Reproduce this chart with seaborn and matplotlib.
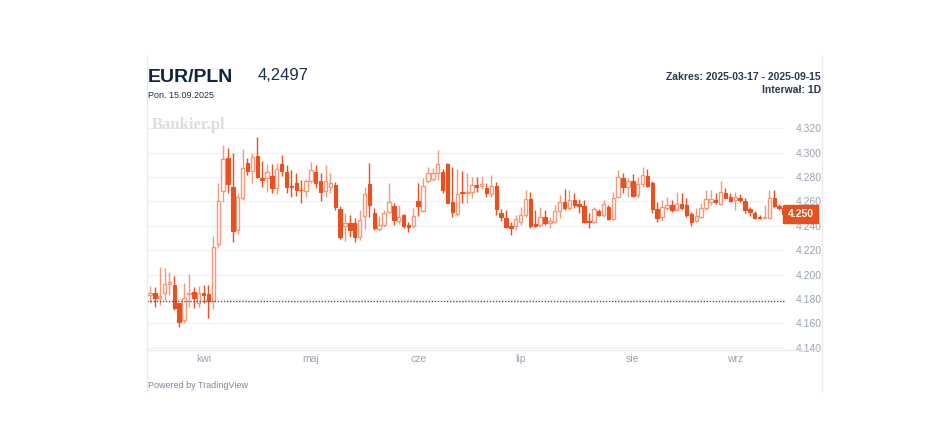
import numpy as np
import pandas as pd
import matplotlib.pyplot as plt
import seaborn as sns
from matplotlib.lines import Line2D

sns.set_theme(style="white")
plt.rcParams['font.family'] = ['Liberation Sans', 'DejaVu Sans']

# Dane OHLC EUR/PLN, dzienne, 2025-03-17 .. 2025-09-15
dates = pd.bdate_range('2025-03-17', '2025-09-15')
open_ = [4.1833, 4.1846, 4.1811, 4.1852, 4.1923, 4.1915, 4.1764, 4.1628, 4.1838, 4.1855,
         4.1770, 4.1846, 4.1841, 4.1786, 4.2251, 4.2685, 4.2958, 4.2715, 4.2366, 4.2625,
         4.2917, 4.2852, 4.2972, 4.2789, 4.2789, 4.2811, 4.2707, 4.2908, 4.2844, 4.2726,
         4.2754, 4.2697, 4.2688, 4.2770, 4.2844, 4.2770, 4.2688, 4.2715, 4.2734, 4.2535,
         4.2398, 4.2426, 4.2426, 4.2305, 4.2480, 4.2743, 4.2508, 4.2371, 4.2407, 4.2516,
         4.2565, 4.2442, 4.2489, 4.2407, 4.2398, 4.2606, 4.2524, 4.2770, 4.2781, 4.2830,
         4.2844, 4.2907, 4.2598, 4.2497, 4.2680, 4.2666, 4.2680, 4.2732, 4.2726, 4.2707,
         4.2661, 4.2726, 4.2502, 4.2461, 4.2398, 4.2398, 4.2434, 4.2489, 4.2617, 4.2412,
         4.2407, 4.2475, 4.2420, 4.2434, 4.2524, 4.2598, 4.2543, 4.2611, 4.2576, 4.2565,
         4.2439, 4.2434, 4.2524, 4.2489, 4.2557, 4.2453, 4.2639, 4.2789, 4.2715, 4.2770,
         4.2652, 4.2743, 4.2808, 4.2754, 4.2535, 4.2469, 4.2543, 4.2570, 4.2530, 4.2576,
         4.2570, 4.2494, 4.2439, 4.2475, 4.2543, 4.2598, 4.2611, 4.2576, 4.2666, 4.2639,
         4.2611, 4.2631, 4.2603, 4.2535, 4.2502, 4.2475, 4.2467, 4.2467, 4.2625, 4.2565,
         4.2549]
high = [4.1907, 4.1901, 4.2060, 4.2051, 4.2024, 4.1989, 4.1770, 4.1928, 4.2005, 4.1896,
        4.1907, 4.1912, 4.1915, 4.2316, 4.2748, 4.3062, 4.3035, 4.3000, 4.2666, 4.3027,
        4.2953, 4.3000, 4.3125, 4.2934, 4.2908, 4.2908, 4.2912, 4.2980, 4.2898, 4.2857,
        4.2830, 4.2775, 4.2781, 4.2926, 4.2902, 4.2830, 4.2902, 4.2830, 4.2762, 4.2562,
        4.2502, 4.2489, 4.2461, 4.2530, 4.2721, 4.2912, 4.2543, 4.2480, 4.2530, 4.2748,
        4.2584, 4.2570, 4.2497, 4.2434, 4.2543, 4.2754, 4.2789, 4.2885, 4.2871, 4.3021,
        4.2863, 4.2912, 4.2879, 4.2863, 4.2850, 4.2830, 4.2803, 4.2803, 4.2808, 4.2748,
        4.2816, 4.2762, 4.2535, 4.2530, 4.2434, 4.2489, 4.2557, 4.2693, 4.2680, 4.2530,
        4.2557, 4.2530, 4.2475, 4.2570, 4.2652, 4.2700, 4.2693, 4.2666, 4.2617, 4.2611,
        4.2502, 4.2557, 4.2535, 4.2611, 4.2570, 4.2680, 4.2857, 4.2830, 4.2789, 4.2825,
        4.2803, 4.2879, 4.2863, 4.2770, 4.2598, 4.2611, 4.2639, 4.2611, 4.2680, 4.2666,
        4.2625, 4.2516, 4.2543, 4.2584, 4.2693, 4.2693, 4.2666, 4.2767, 4.2713, 4.2666,
        4.2680, 4.2658, 4.2625, 4.2557, 4.2521, 4.2489, 4.2571, 4.2693, 4.2693, 4.2580,
        4.2565]
low = [4.1764, 4.1737, 4.1750, 4.1792, 4.1833, 4.1710, 4.1573, 4.1606, 4.1737, 4.1723,
       4.1737, 4.1764, 4.1642, 4.1715, 4.2215, 4.2598, 4.2666, 4.2264, 4.2333, 4.2611,
       4.2816, 4.2754, 4.2789, 4.2721, 4.2680, 4.2672, 4.2661, 4.2808, 4.2666, 4.2639,
       4.2644, 4.2590, 4.2639, 4.2748, 4.2707, 4.2606, 4.2639, 4.2672, 4.2530, 4.2289,
       4.2275, 4.2305, 4.2270, 4.2284, 4.2371, 4.2475, 4.2366, 4.2360, 4.2387, 4.2502,
       4.2407, 4.2415, 4.2379, 4.2352, 4.2379, 4.2480, 4.2516, 4.2748, 4.2770, 4.2775,
       4.2672, 4.2584, 4.2469, 4.2480, 4.2584, 4.2584, 4.2625, 4.2680, 4.2699, 4.2639,
       4.2639, 4.2489, 4.2442, 4.2379, 4.2325, 4.2366, 4.2407, 4.2475, 4.2379, 4.2393,
       4.2393, 4.2407, 4.2379, 4.2420, 4.2461, 4.2530, 4.2530, 4.2543, 4.2502, 4.2420,
       4.2379, 4.2420, 4.2480, 4.2475, 4.2448, 4.2448, 4.2633, 4.2666, 4.2639, 4.2639,
       4.2625, 4.2721, 4.2715, 4.2508, 4.2434, 4.2442, 4.2530, 4.2516, 4.2521, 4.2530,
       4.2475, 4.2401, 4.2428, 4.2467, 4.2530, 4.2571, 4.2576, 4.2571, 4.2625, 4.2598,
       4.2530, 4.2592, 4.2502, 4.2483, 4.2456, 4.2456, 4.2461, 4.2461, 4.2549, 4.2530,
       4.2485]
close = [4.1847, 4.1805, 4.1825, 4.1923, 4.1939, 4.1723, 4.1614, 4.1805, 4.1846, 4.1805,
         4.1852, 4.1836, 4.1784, 4.2224, 4.2606, 4.2945, 4.2740, 4.2360, 4.2639, 4.2871,
         4.2852, 4.2967, 4.2797, 4.2775, 4.2844, 4.2707, 4.2863, 4.2852, 4.2715, 4.2718,
         4.2693, 4.2690, 4.2770, 4.2857, 4.2754, 4.2680, 4.2770, 4.2754, 4.2557, 4.2305,
         4.2426, 4.2366, 4.2310, 4.2448, 4.2661, 4.2570, 4.2379, 4.2407, 4.2508, 4.2598,
         4.2448, 4.2469, 4.2398, 4.2393, 4.2480, 4.2565, 4.2726, 4.2830, 4.2830, 4.2907,
         4.2693, 4.2590, 4.2516, 4.2661, 4.2667, 4.2680, 4.2734, 4.2721, 4.2740, 4.2666,
         4.2726, 4.2535, 4.2469, 4.2393, 4.2385, 4.2453, 4.2489, 4.2617, 4.2398, 4.2398,
         4.2475, 4.2420, 4.2439, 4.2524, 4.2598, 4.2543, 4.2611, 4.2570, 4.2565, 4.2428,
         4.2428, 4.2535, 4.2489, 4.2576, 4.2453, 4.2625, 4.2803, 4.2715, 4.2770, 4.2644,
         4.2743, 4.2816, 4.2726, 4.2535, 4.2461, 4.2557, 4.2570, 4.2530, 4.2576, 4.2543,
         4.2489, 4.2434, 4.2483, 4.2549, 4.2617, 4.2620, 4.2598, 4.2674, 4.2631, 4.2603,
         4.2633, 4.2611, 4.2530, 4.2516, 4.2467, 4.2467, 4.2475, 4.2625, 4.2565, 4.2549,
         4.2497]
base_line = 4.1785
last_price = 4.2497
month_labels = ['kwi', 'maj', 'cze', 'lip', 'sie', 'wrz']

df = pd.DataFrame({'date': dates[:len(close)], 'open': open_, 'high': high,
                   'low': low, 'close': close})
df['x'] = np.arange(len(df))
up = df['close'] >= df['open']

colors = {
    'up': '#F29A7B',
    'down': '#E8501F',
    'text': '#16233F',
    'grid': '#F1F2F5',
    'axis': '#9AA2B1',
    'border': '#E9EBEF',
}

W, H = 948, 434
fig = plt.figure(figsize=(W / 100, H / 100), dpi=100)
fig.patch.set_facecolor('white')
ax = fig.add_axes([147 / W, (H - 350) / H, (785 - 147) / W, (350 - 115) / H])
ax.set_facecolor('white')

# siatka pozioma
yticks = np.arange(4.14, 4.3201, 0.02)
for yv in yticks:
    ax.axhline(yv, color=colors['grid'], lw=0.9, zorder=0)

# knoty
ax.vlines(df.loc[up, 'x'], df.loc[up, 'low'], df.loc[up, 'high'],
          color=colors['up'], lw=1, zorder=2)
ax.vlines(df.loc[~up, 'x'], df.loc[~up, 'low'], df.loc[~up, 'high'],
          color=colors['down'], lw=1, zorder=2)

# korpusy
body_lo = np.minimum(df['open'], df['close'])
body_h = np.maximum((df['close'] - df['open']).abs(), 0.0004)
ax.bar(df.loc[up, 'x'], body_h[up], bottom=body_lo[up], width=0.7,
       facecolor='white', edgecolor=colors['up'], linewidth=1, zorder=3)
ax.bar(df.loc[~up, 'x'], body_h[~up], bottom=body_lo[~up], width=0.7,
       facecolor=colors['down'], edgecolor=colors['down'], linewidth=0.8, zorder=3)

# linia bazowa (kropkowana)
ax.axhline(base_line, color='#46526E', lw=1, ls=(0, (1, 1.2)), zorder=4)

ax.set_xlim(-0.6, 130.2)
ax.set_ylim(4.1382, 4.3308)

ax.yaxis.tick_right()
ax.set_yticks(yticks)
ax.set_yticklabels([f'{v:.3f}' for v in yticks])
month_pos = [df.index[(df['date'].dt.month == m)][0] for m in range(4, 10)]
ax.set_xticks(month_pos)
ax.set_xticklabels(month_labels)
ax.tick_params(axis='both', length=0, labelsize=7.5, labelcolor=colors['axis'])
ax.tick_params(axis='y', pad=8)
ax.tick_params(axis='x', pad=3)
for s in ax.spines.values():
    s.set_visible(False)

# etykieta ostatniej ceny
ax.text(1.004, last_price, f'{last_price:.3f}', transform=ax.get_yaxis_transform(),
        ha='left', va='center', fontsize=7.5, fontweight='bold', color='white',
        bbox=dict(boxstyle='square,pad=0.4', facecolor=colors['down'],
                  edgecolor=colors['down']), zorder=6, clip_on=False)

# ramka panelu
def px(x, y):
    return x / W, 1 - y / H

for xs in (147, 822):
    fig.add_artist(Line2D([xs / W, xs / W], [1 - 55 / H, 1 - 392 / H],
                          color=colors['border'], lw=1))
fig.add_artist(Line2D([147 / W, 822 / W], [1 - 350 / H, 1 - 350 / H],
                      color=colors['border'], lw=1))

# nagłówek
fig.text(*px(148, 77), 'EUR/PLN', fontsize=14, fontweight='bold',
         color=colors['text'], ha='left', va='center')
fig.text(*px(258, 75), '4,2497', fontsize=12, color='#1F2D4A',
         ha='left', va='center')
fig.text(*px(148, 95), 'Pon. 15.09.2025', fontsize=6.5, color='#1F2D4A',
         ha='left', va='center')
fig.text(*px(821, 77), 'Zakres: 2025-03-17 - 2025-09-15', fontsize=7.5,
         fontweight='bold', color='#2B3854', ha='right', va='center')
fig.text(*px(821, 90), 'Interwał: 1D', fontsize=7.5, fontweight='bold',
         color='#2B3854', ha='right', va='center')
fig.text(*px(152, 125), 'Bankier.pl', fontsize=12, fontweight='bold',
         family='Liberation Serif', color='#DADDE3', ha='left', va='center')
fig.text(*px(148, 386), 'Powered by TradingView', fontsize=6.5, color='#7D8697',
         ha='left', va='center')

fig.savefig('out.png', dpi=100, facecolor='white')
